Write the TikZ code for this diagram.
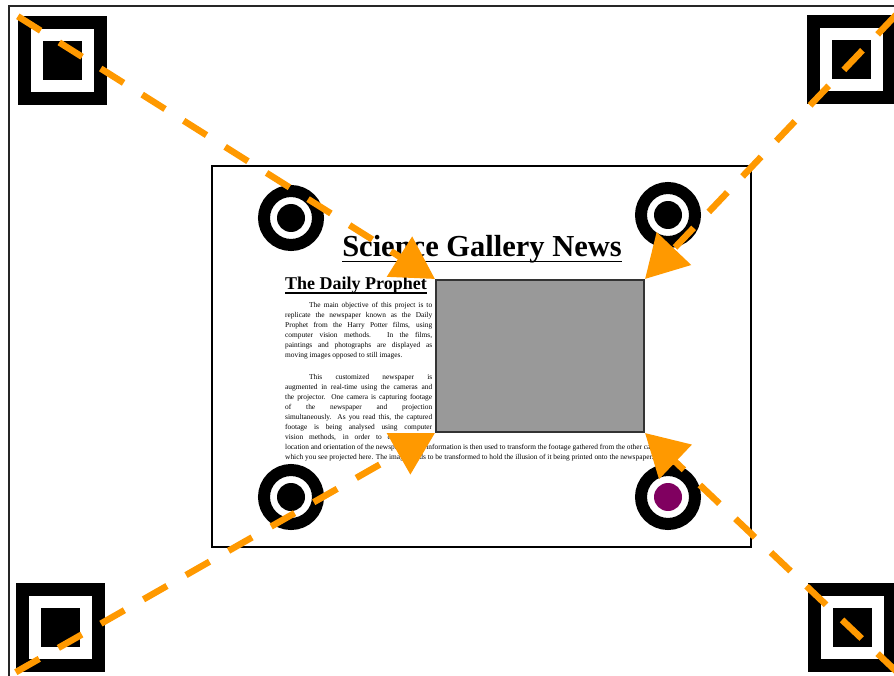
\documentclass[tikz,border=0pt]{standalone}
\usepackage{fontspec}
\setmainfont{Liberation Serif}
\usetikzlibrary{arrows.meta}
\definecolor{guidecol}{RGB}{255,153,0}
\definecolor{dotpurple}{RGB}{128,0,96}
\colorlet{photocol}{black!40}
\colorlet{framecol}{black!85}
\newcommand\bodyset{\tolerance=10000 \hbadness=10000 \hyphenpenalty=10000 \noindent}
\tikzstyle{sqouter}=[fill=black,minimum size=89pt,inner sep=0pt]
\tikzstyle{sqring}=[fill=white,minimum size=63pt,inner sep=0pt]
\tikzstyle{sqcore}=[fill=black,minimum size=39pt,inner sep=0pt]
\tikzstyle{ring}=[circle,draw=black,line width=12pt,fill=white,minimum size=54pt,inner sep=0pt]
\tikzstyle{dot}=[circle,minimum size=28pt,inner sep=0pt]
\tikzstyle{page}=[draw=black,line width=1.5pt,minimum width=539pt,minimum height=381pt,inner sep=0pt]
\tikzstyle{photo}=[draw=black!80,line width=2pt,fill=photocol,minimum width=208pt,minimum height=152pt,inner sep=0pt]
\tikzstyle{column}=[inner sep=0pt,anchor=north west,font=\fontsize{7.4}{10}\selectfont]
\tikzstyle{guide}=[guidecol,line width=6.5pt,dash pattern=on 27pt off 22pt,-{Triangle[length=42pt,width=46pt]}]

\begin{document}
\begin{tikzpicture}[x=1pt,y=-1pt]
  \def\W{894}   % picture width
  \def\H{676}   % picture height

  % Clip to the screen area
  \clip (0,0) rectangle (\W,\H);
  \fill[white] (0,0) rectangle (\W,\H);
  \draw[framecol,line width=1.5pt] (9,6) rectangle (\W+10,\H+10);

  % corner markers : black frame, white ring, black core
  \foreach \n/\p in {tl/{62.5,61},tr/{851.5,59.5},bl/{60.5,627.5},br/{852.5,627.5}} {
    \node[sqouter] (\n) at (\p) {};
    \node[sqring] at (\p) {};
    \node[sqcore] at (\p) {};
  }

  % the printed page
  \node[page] (page) at (481.5,356.5) {};

  % round markers on the page, one of them purple
  \foreach \n/\p/\c in {ctl/{291,218}/black,ctr/{668,215}/black,cbl/{291,497}/black,cbr/{668,497}/dotpurple} {
    \node[ring] (\n) at (\p) {};
    \node[dot,fill=\c] at (\p) {};
  }

  % headlines
  \node[inner sep=0pt,anchor=base,font=\fontsize{30.5}{34}\selectfont\bfseries] (title) at (482,257) {Science Gallery News};
  \draw[line width=1.8pt] ([yshift=-4.5pt]title.base west) -- ([yshift=-4.5pt]title.base east);
  \node[inner sep=0pt,anchor=base west,font=\fontsize{18}{20}\selectfont\bfseries] (prophet) at (285,290) {The Daily Prophet};
  \draw[line width=1.4pt] ([yshift=-3pt]prophet.base west) -- ([yshift=-3pt]prophet.base east);

  % projected picture
  \node[photo] (photo) at (540,356) {};

  % body text: narrow column left of the picture, then two wide lines
  \node[column] (para1) at (285,302) {\parbox{147pt}{\bodyset\hspace*{24pt}The main objective of this project is to\linebreak
    replicate the newspaper known as the Daily\linebreak
    Prophet from the Harry Potter films, using\linebreak
    computer vision methods. In the films,\linebreak
    paintings and photographs are displayed as\linebreak
    moving images opposed to still images.}};
  \node[column] (para2) at (285,374) {\parbox{147pt}{\parfillskip=0pt \bodyset\hspace*{24pt}This customized newspaper is\linebreak
    augmented in real-time using the cameras and\linebreak
    the projector. One camera is capturing footage\linebreak
    of the newspaper and projection\linebreak
    simultaneously. As you read this, the captured\linebreak
    footage is being analysed using computer\linebreak
    vision methods, in order to determine the}};
  \node[column] (para3) at (285,444) {\parbox{380pt}{\bodyset location and orientation of the newspaper. This information is then used to transform the footage gathered from the other camera\linebreak
    which you see projected here. The image needs to be transformed to hold the illusion of it being printed onto the newspaper.}};

  % guide lines from the screen corners to the picture
  \draw[guide] (tl.north west) -- (photo.north west);
  \draw[guide] (tr.north east) -- (photo.north east);
  \draw[guide] (bl.south west) -- (photo.south west);
  \draw[guide] (br.south east) -- (photo.south east);
\end{tikzpicture}
\end{document}
